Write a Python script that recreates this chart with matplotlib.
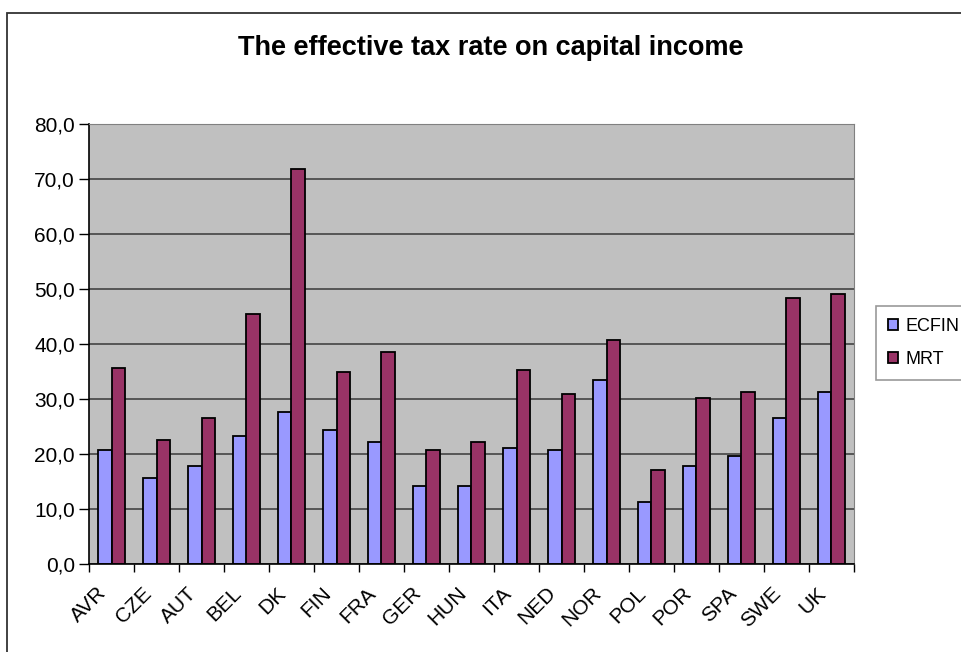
import matplotlib
matplotlib.use('Agg')
import matplotlib.pyplot as plt
import matplotlib.transforms as mtransforms
import numpy as np
from matplotlib.patches import Rectangle, Patch

plt.rcParams['font.family'] = ['Liberation Sans', 'DejaVu Sans']

# Ставки по країнах
countries = ['AVR', 'CZE', 'AUT', 'BEL', 'DK', 'FIN', 'FRA', 'GER', 'HUN',
             'ITA', 'NED', 'NOR', 'POL', 'POR', 'SPA', 'SWE', 'UK']
ecfin = [20.7, 15.6, 17.8, 23.3, 27.6, 24.3, 22.2, 14.2, 14.2,
         21.1, 20.7, 33.4, 11.3, 17.8, 19.6, 26.5, 31.2]
mrt = [35.6, 22.5, 26.5, 45.5, 71.9, 34.9, 38.5, 20.7, 22.2,
       35.3, 30.9, 40.7, 17.1, 30.2, 31.2, 48.3, 49.1]
yticks = np.arange(0, 81, 10)

W, H = 962, 652
fig = plt.figure(figsize=(W / 100, H / 100), dpi=100)

# рамка навколо діаграми
fig.patches.append(Rectangle((7 / W, 0 - 0.05), 1.1, 1 - 12.7 / H + 0.05,
                             transform=fig.transFigure, fill=False,
                             edgecolor='#333333', linewidth=1.3))

ax = fig.add_axes([89 / W, 1 - 564 / H, (854 - 89) / W, (564 - 124) / H])
ax.set_facecolor('#C0C0C0')

x = np.arange(len(countries))
w = 0.29
ax.bar(x - w / 2, ecfin, w, color='#9999FF', edgecolor='black', linewidth=1.3,
       label='ECFIN', zorder=3)
ax.bar(x + w / 2, mrt, w, color='#993366', edgecolor='black', linewidth=1.3,
       label='MRT', zorder=3)

ax.set_xlim(-0.5, len(countries) - 0.5)
ax.set_ylim(0, 80)
ax.set_yticks(yticks)
ax.set_yticklabels([f'{v:.1f}'.replace('.', ',') for v in yticks], fontsize=15)
ax.yaxis.grid(True, color='#444444', linewidth=1.2, zorder=1)

ax.set_xticks(x)
ax.set_xticklabels(countries, fontsize=15, rotation=45, ha='right', va='top',
                   rotation_mode='anchor')
ax.tick_params(axis='x', which='major', length=0, pad=14)
# зсуваємо підписи країн трохи вліво
shift = mtransforms.ScaledTranslation(-0.15, 0, fig.dpi_scale_trans)
for lbl in ax.get_xticklabels():
    lbl.set_transform(lbl.get_transform() + shift)
ax.set_xticks(np.arange(-0.5, len(countries)), minor=True)
ax.tick_params(axis='x', which='minor', length=6, width=1, color='black')
ax.tick_params(axis='y', length=7, width=1, color='black', pad=3)

for side in ['top', 'right']:
    ax.spines[side].set_color('#808080')
for side in ['left', 'bottom']:
    ax.spines[side].set_color('black')
    ax.spines[side].set_linewidth(1.2)
ax.spines['bottom'].set_zorder(4)

fig.text(0.5 * (236 + 745) / W, 1 - 48 / H, 'The effective tax rate on capital income',
         ha='center', va='center', fontsize=19.5, fontweight='bold')

handles = [Patch(facecolor='#9999FF', edgecolor='black', linewidth=1.3),
           Patch(facecolor='#993366', edgecolor='black', linewidth=1.3)]
leg = fig.legend(handles, ['ECFIN', 'MRT'], loc='upper left',
                 bbox_to_anchor=(876 / W, 1 - 306 / H),
                 prop={'size': 13}, handlelength=0.55, handleheight=0.55,
                 handletextpad=0.45, labelspacing=0.9, borderpad=0.65,
                 borderaxespad=0, fancybox=False, frameon=True,
                 edgecolor='#808080')
leg.get_frame().set_linewidth(1.2)

fig.savefig('out.png', dpi=100)
